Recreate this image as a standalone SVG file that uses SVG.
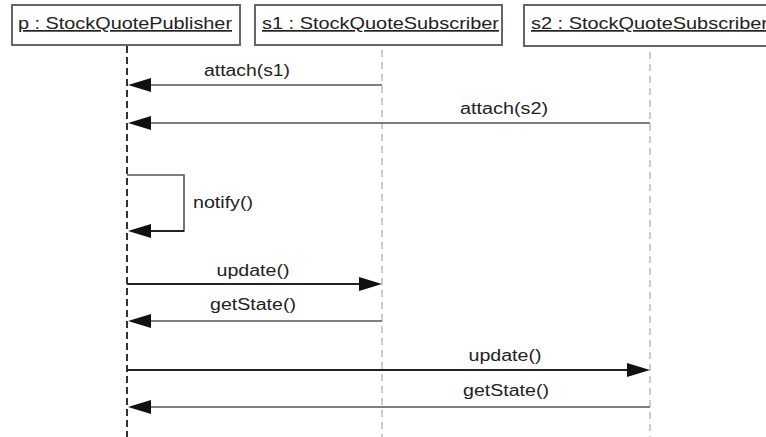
<svg xmlns="http://www.w3.org/2000/svg" width="766" height="437" viewBox="0 0 766 437">
<style>
.box{fill:#fff;stroke:#666;stroke-width:2}
.hd{font-family:"Liberation Sans",Arial,sans-serif;font-size:17px;fill:#222;text-decoration:underline}
.lbl{font-family:"Liberation Sans",Arial,sans-serif;font-size:16px;fill:#222}
.lifeP{stroke:#333;stroke-width:2;stroke-dasharray:7 4;fill:none}
.life{stroke:#999;stroke-width:1;stroke-dasharray:7 5;fill:none}
.msg{stroke:#555;stroke-width:1.6;fill:none}
.msgB{stroke:#222;stroke-width:2.2;fill:none}
.head{fill:#111}
</style>
<rect width="766" height="437" fill="#fff"/>
<g id="p">
<rect class="box" x="12" y="5" width="228" height="40"/>
<text class="hd" x="18" y="29" textLength="214" lengthAdjust="spacingAndGlyphs">p : StockQuotePublisher</text>
<line class="lifeP" x1="127" y1="46" x2="127" y2="437"/>
</g>
<g id="s1">
<rect class="box" x="255" y="5" width="247" height="40"/>
<text class="hd" x="262" y="29" textLength="237" lengthAdjust="spacingAndGlyphs">s1 : StockQuoteSubscriber</text>
<line class="life" x1="382" y1="50" x2="382" y2="437"/>
</g>
<g id="s2">
<rect class="box" x="524" y="5" width="250" height="41"/>
<text class="hd" x="531" y="29" textLength="237" lengthAdjust="spacingAndGlyphs">s2 : StockQuoteSubscriber</text>
<line class="life" x1="650" y1="52" x2="650" y2="437"/>
</g>
<g id="connectors">
<line class="msg" x1="382" y1="85" x2="140" y2="85"/>
<polygon class="head" points="128,85 151,78 151,92"/>
<text class="lbl" x="247" y="76" text-anchor="middle" textLength="86" lengthAdjust="spacingAndGlyphs">attach(s1)</text>

<line class="msg" x1="650" y1="123" x2="140" y2="123"/>
<polygon class="head" points="128,123 151,116 151,130"/>
<text class="lbl" x="504" y="114" text-anchor="middle" textLength="88" lengthAdjust="spacingAndGlyphs">attach(s2)</text>

<polyline class="msg" points="127,175 184,175 184,231 145,231" stroke-width="1.2"/>
<line class="msgB" x1="184" y1="231" x2="145" y2="231" stroke="#444"/>
<polygon class="head" points="128,231 151,224 151,238"/>
<text class="lbl" x="193" y="208" textLength="60" lengthAdjust="spacingAndGlyphs">notify()</text>

<line class="msgB" x1="127" y1="284" x2="365" y2="284"/>
<polygon class="head" points="382,284 359,277 359,291"/>
<text class="lbl" x="253" y="276" text-anchor="middle" textLength="73" lengthAdjust="spacingAndGlyphs">update()</text>

<line class="msg" x1="382" y1="321" x2="140" y2="321"/>
<polygon class="head" points="128,321 151,314 151,328"/>
<text class="lbl" x="253" y="310" text-anchor="middle" textLength="86" lengthAdjust="spacingAndGlyphs">getState()</text>

<line class="msgB" x1="127" y1="370" x2="632" y2="370" stroke="#555"/>
<polygon class="head" points="650,370 627,363 627,377"/>
<text class="lbl" x="505" y="361" text-anchor="middle" textLength="73" lengthAdjust="spacingAndGlyphs">update()</text>

<line class="msg" x1="650" y1="407" x2="140" y2="407"/>
<polygon class="head" points="128,407 151,400 151,414"/>
<text class="lbl" x="506" y="396" text-anchor="middle" textLength="86" lengthAdjust="spacingAndGlyphs">getState()</text>
</g>
</svg>
